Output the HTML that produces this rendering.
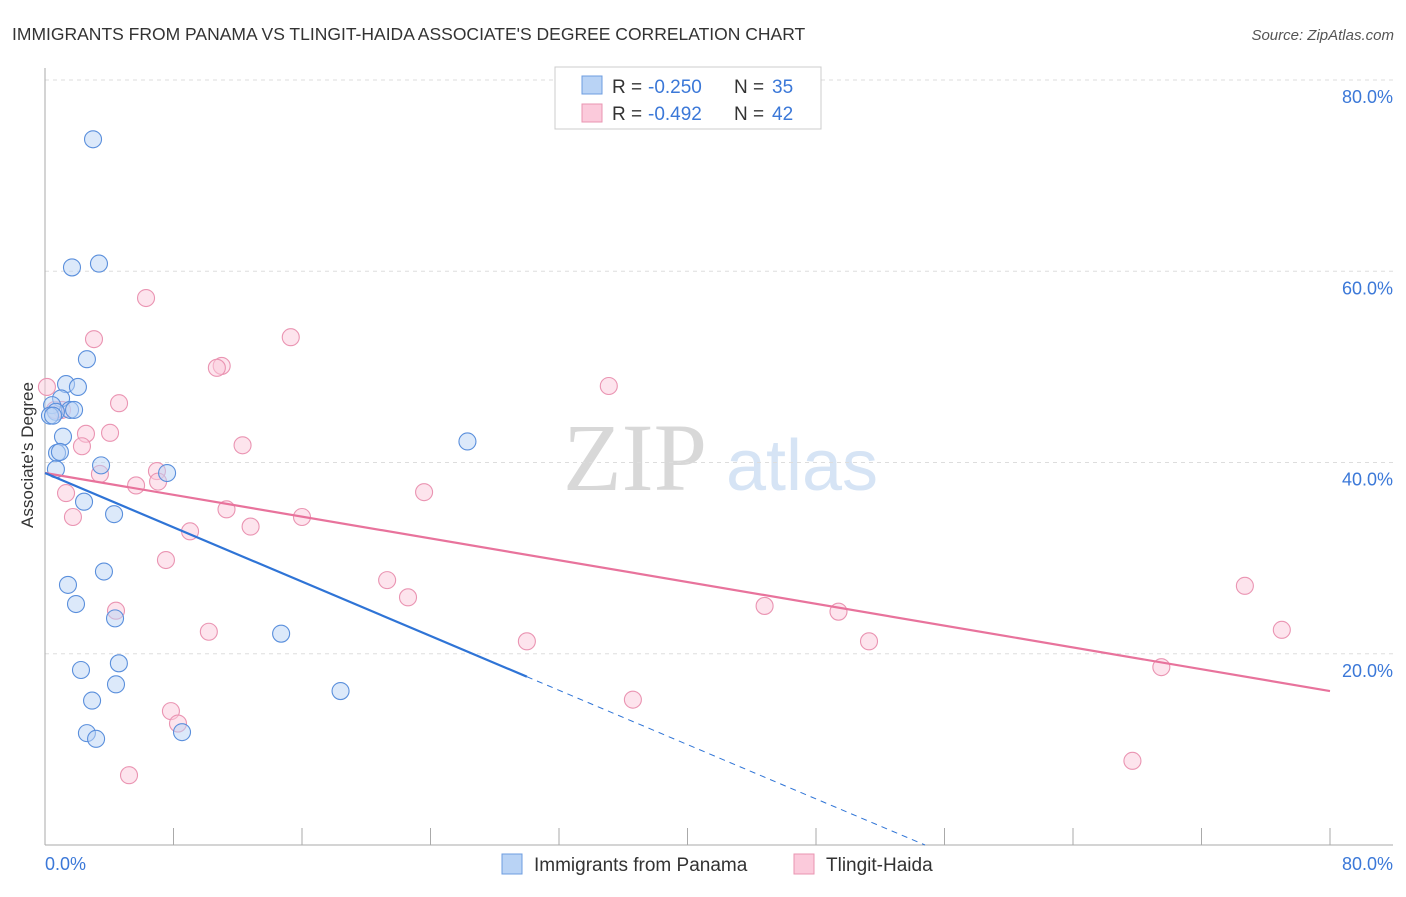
<!DOCTYPE html>
<html><head><meta charset="utf-8"><style>
body{margin:0;background:#fff;font-family:"Liberation Sans",sans-serif;}
</style></head><body>
<svg id="c" width="1406" height="892" font-family="Liberation Sans, sans-serif" xmlns="http://www.w3.org/2000/svg">
<text x="12" y="40" font-size="17.5" fill="#333">IMMIGRANTS FROM PANAMA VS TLINGIT-HAIDA ASSOCIATE'S DEGREE CORRELATION CHART</text>
<text x="1394" y="40" font-size="15" fill="#555" text-anchor="end" font-style="italic">Source: ZipAtlas.com</text>
<text x="635" y="490" font-size="96" fill="#d8d8d8" style="font-family:'Liberation Serif',serif" text-anchor="middle">ZIP</text>
<text x="802" y="490" font-size="72" fill="#d6e4f5" text-anchor="middle">atlas</text>
<g id="grid"></g><g id="marks"></g>
<text x="33" y="455" font-size="17" fill="#333" text-anchor="middle" transform="rotate(-90 33 455)">Associate's Degree</text>
<text x="45" y="870" font-size="18" fill="#3b78d8">0.0%</text>
<text x="1393" y="870" font-size="18" fill="#3b78d8" text-anchor="end">80.0%</text>
<g>
<rect x="555" y="67" width="266" height="62" fill="#fff" stroke="#ccc"/>
<rect x="582" y="76" width="20" height="18" fill="#b9d3f5" stroke="#6d9de0"/>
<rect x="582" y="104" width="20" height="18" fill="#fbcadb" stroke="#ea94b2"/>
<text x="612" y="93" font-size="19" fill="#333">R =</text>
<text x="648" y="93" font-size="19" fill="#3b78d8">-0.250</text>
<text x="734" y="93" font-size="19" fill="#333">N =</text>
<text x="772" y="93" font-size="19" fill="#3b78d8">35</text>
<text x="612" y="120" font-size="19" fill="#333">R =</text>
<text x="648" y="120" font-size="19" fill="#3b78d8">-0.492</text>
<text x="734" y="120" font-size="19" fill="#333">N =</text>
<text x="772" y="120" font-size="19" fill="#3b78d8">42</text>
</g>
<g>
<rect x="502" y="854" width="20" height="20" fill="#b9d3f5" stroke="#6d9de0"/>
<text x="534" y="871" font-size="19" fill="#333">Immigrants from Panama</text>
<rect x="794" y="854" width="20" height="20" fill="#fbcadb" stroke="#ea94b2"/>
<text x="826" y="871" font-size="19" fill="#333">Tlingit-Haida</text>
</g>
</svg>
<script>
const blueX=[2.99,1.68,3.36,2.61,1.31,2.05,1.0,0.44,1.56,1.81,0.68,0.31,0.5,1.12,0.75,0.93,0.68,3.49,7.6,26.3,2.43,4.3,3.67,1.43,1.93,4.36,14.7,4.6,2.24,4.42,18.4,2.93,2.61,3.18,8.53];
const blueY=[73.8,60.4,60.8,50.8,48.2,47.9,46.7,46.0,45.5,45.5,45.3,44.9,44.9,42.7,41.0,41.1,39.3,39.7,38.9,42.2,35.9,34.6,28.6,27.2,25.2,23.7,22.1,19.0,18.3,16.8,16.1,15.1,11.7,11.1,11.8];
const pinkX=[6.29,3.05,15.3,11.0,10.7,35.1,0.12,4.61,1.06,0.62,4.05,2.55,2.3,12.3,6.97,3.42,5.67,7.04,1.31,23.6,11.3,1.74,16.0,12.8,9.03,7.53,21.3,22.6,4.42,44.8,49.4,10.2,30.0,51.3,74.7,77.0,69.5,36.6,7.84,8.28,5.23,67.7];
const pinkY=[57.2,52.9,53.1,50.1,49.9,48.0,47.9,46.2,45.5,45.5,43.1,43.0,41.7,41.8,39.1,38.8,37.6,38.0,36.8,36.9,35.1,34.3,34.3,33.3,32.8,29.8,27.7,25.9,24.5,25.0,24.4,22.3,21.3,21.3,27.1,22.5,18.6,15.2,14.0,12.7,7.3,8.8];
const blueFit=[38.9,-0.71];
const pinkFit=[38.9,-0.285];
const yTicks=[20,40,60,80];
const yTickLabels=["20.0%","40.0%","60.0%","80.0%"];
const xTicks=[0,8,16,24,32,40,48,56,64,72,80];
const NS="http://www.w3.org/2000/svg";
const sx=v=>45+v/80*1285, sy=v=>845-v/80*765;
function mk(t,a,p){const e=document.createElementNS(NS,t);for(const k in a)e.setAttribute(k,a[k]);p.appendChild(e);return e;}
const g=document.getElementById('grid'), m=document.getElementById('marks');
yTicks.forEach((v,i)=>{
 const l=mk('line',{x1:45,x2:1393,y1:sy(v),y2:sy(v),stroke:'#ddd','stroke-dasharray':'4 4'},g);
 
 
 const t=mk('text',{x:1393,y:sy(v)+23,'font-size':18,fill:'#3b78d8','text-anchor':'end'},g);
 t.textContent=yTickLabels[i];
 
 
});
const ax=mk('line',{x1:45,x2:45,y1:68,y2:845,stroke:'#aaa'},g);


const bx=mk('line',{x1:45,x2:1393,y1:845,y2:845,stroke:'#aaa'},g);


xTicks.forEach(v=>{
 const t=mk('line',{x1:sx(v),x2:sx(v),y1:828,y2:845,stroke:'#aaa'},g);
 
 
});
function pts(X,Y,fill,stroke,name){X.forEach((x,i)=>{
 const c=mk('circle',{cx:sx(x),cy:sy(Y[i]),r:8.5,fill:fill,'fill-opacity':0.5,stroke:stroke,'stroke-width':1.1},m);
 
 
});}
pts(pinkX,pinkY,'#fbcadb','#ea94b2','tlingit-point');
pts(blueX,blueY,'#b9d3f5','#5a8fdc','panama-point');
function fl(f,x0,x1,col,name,dash){
 const l=mk('line',{x1:sx(x0),y1:sy(f[0]+f[1]*x0),x2:sx(x1),y2:sy(f[0]+f[1]*x1),stroke:col,'stroke-width':dash?1:2.2},m);
 if(dash)l.setAttribute('stroke-dasharray','6 5');
 
 
}
fl(pinkFit,0,80,'#e8739c','tlingit-trendline');
fl(blueFit,0,30,'#2f74d6','panama-trendline');
fl(blueFit,30,-blueFit[0]/blueFit[1],'#2f74d6','panama-trendline-extension',true);
</script>
</body></html>
